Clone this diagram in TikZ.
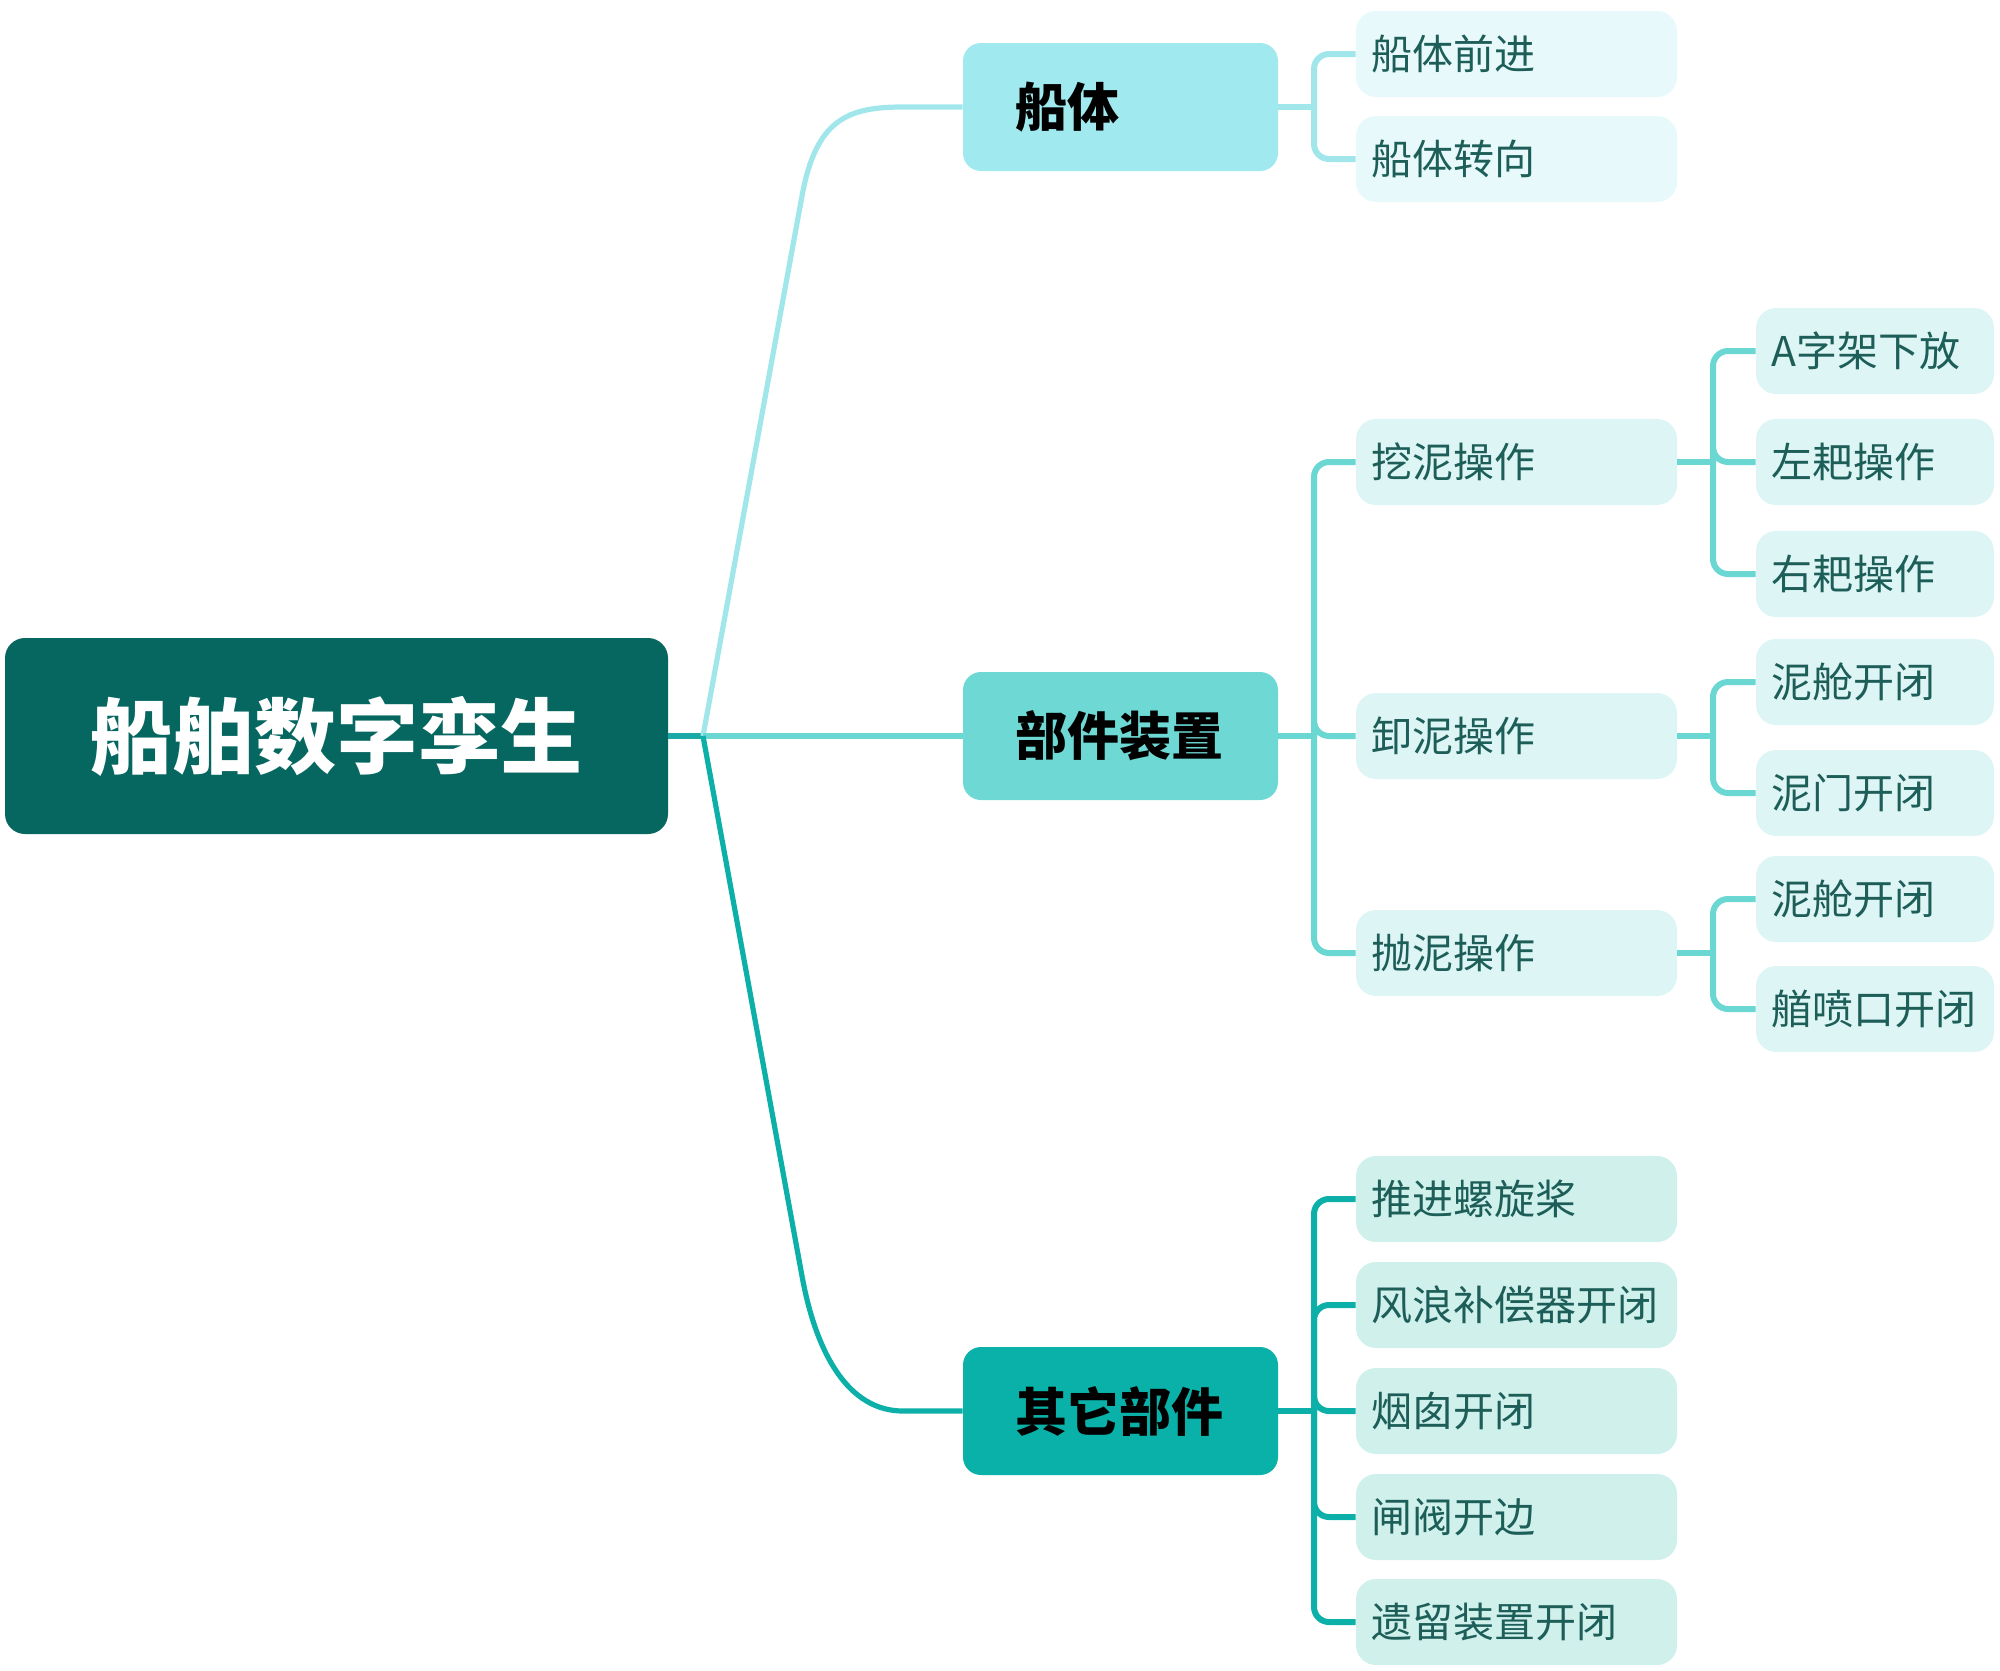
\documentclass[tikz,border=0pt]{standalone}
\usepackage{fontspec}
\setmainfont{Noto Sans CJK SC}
\definecolor{cRoot}{HTML}{066660}
\definecolor{cBa}{HTML}{A0E9EE}
\definecolor{cBb}{HTML}{6ED9D4}
\definecolor{cBc}{HTML}{0AB1A8}
\definecolor{cLa}{HTML}{A0E6EB}
\definecolor{cLb}{HTML}{6AD7D3}
\definecolor{cLc}{HTML}{0CB0A8}
\definecolor{cFa}{HTML}{E7F9FA}
\definecolor{cFb}{HTML}{DEF5F5}
\definecolor{cFc}{HTML}{D0F0EC}
\definecolor{cText}{HTML}{1D5E59}
\definecolor{cStub}{HTML}{1AA9A6}
\begin{document}
\begin{tikzpicture}[x=0.5pt,y=-0.5pt,
  rootbox/.style={fill=cRoot, rounded corners=10pt, minimum width=331.5pt, minimum height=98pt, inner sep=0pt, text=white, font=\fontsize{41}{41}\selectfont\bfseries},
  lvone/.style={rounded corners=9pt, minimum height=64pt, text width=105.5pt, inner xsep=26pt, inner ysep=0pt, align=left, text=black, font=\fontsize{26}{26}\selectfont\bfseries},
  leaf/.style={rounded corners=10pt, minimum height=43pt, text width=145pt, inner xsep=7.75pt, inner ysep=0pt, align=left, text=cText, font=\fontsize{20.5}{20.5}\selectfont},
  leafs/.style={leaf, text width=103.5pt},
  mainline/.style={line width=2.6pt},
  subline/.style={line width=3pt, rounded corners=7.5pt},
]
\useasboundingbox (0,0) rectangle (2000,1670);

% root
\node[rootbox] (root) at (336.5,736) {船舶数字孪生};

% level 1
\node[lvone, fill=cBa] (b1) at (1120.5,107) {船体};
\node[lvone, fill=cBb] (b2) at (1120.5,736) {部件装置};
\node[lvone, fill=cBc] (b3) at (1120.5,1411) {其它部件};

% level 2 under 船体
\node[leaf, fill=cFa] (a1) at (1516.5,54) {船体前进};
\node[leaf, fill=cFa] (a2) at (1516.5,159) {船体转向};

% level 2 under 部件装置
\node[leaf, fill=cFb] (p1) at (1516.5,462) {挖泥操作};
\node[leaf, fill=cFb] (p2) at (1516.5,736) {卸泥操作};
\node[leaf, fill=cFb] (p3) at (1516.5,953) {抛泥操作};

% level 3
\node[leafs, fill=cFb] (q11) at (1875,351) {A字架下放};
\node[leafs, fill=cFb] (q12) at (1875,462) {左耙操作};
\node[leafs, fill=cFb] (q13) at (1875,574) {右耙操作};
\node[leafs, fill=cFb] (q21) at (1875,682) {泥舱开闭};
\node[leafs, fill=cFb] (q22) at (1875,793) {泥门开闭};
\node[leafs, fill=cFb] (q31) at (1875,899) {泥舱开闭};
\node[leafs, fill=cFb] (q32) at (1875,1009) {艏喷口开闭};

% level 2 under 其它部件
\node[leaf, fill=cFc] (c1) at (1516.5,1199) {推进螺旋桨};
\node[leaf, fill=cFc] (c2) at (1516.5,1305) {风浪补偿器开闭};
\node[leaf, fill=cFc] (c3) at (1516.5,1411) {烟囱开闭};
\node[leaf, fill=cFc] (c4) at (1516.5,1517) {闸阀开边};
\node[leaf, fill=cFc] (c5) at (1516.5,1622) {遗留装置开闭};

% junctions
\coordinate (jr) at (703,736);
\coordinate (ja) at (1314,107);
\coordinate (jb) at (1314,736);
\coordinate (jc) at (1314,1411);
\coordinate (jb1) at (1713,462);
\coordinate (jb2) at (1713,736);
\coordinate (jb3) at (1713,953);

% root connectors
\draw[mainline, cStub] (root.east) -- (jr);
\draw[mainline, cLa] (jr) -- (802,196) .. controls (816,119) and (848,107) .. (903,107) -- (b1.west);
\draw[mainline, cLb] (jr) -- (b2.west);
\draw[mainline, cLc] (jr) -- (802,1276) .. controls (816,1353) and (848,1411) .. (903,1411) -- (b3.west);

% 船体 connectors
\draw[subline, cLa] (b1.east) -- (ja);
\foreach \n in {a1,a2} \draw[subline, cLa] (ja) |- (\n.west);

% 部件装置 connectors
\draw[subline, cLb] (b2.east) -- (jb);
\foreach \n in {p1,p2,p3} \draw[subline, cLb] (jb) |- (\n.west);
\draw[subline, cLb] (p1.east) -- (jb1);
\foreach \n in {q11,q12,q13} \draw[subline, cLb] (jb1) |- (\n.west);
\draw[subline, cLb] (p2.east) -- (jb2);
\foreach \n in {q21,q22} \draw[subline, cLb] (jb2) |- (\n.west);
\draw[subline, cLb] (p3.east) -- (jb3);
\foreach \n in {q31,q32} \draw[subline, cLb] (jb3) |- (\n.west);

% 其它部件 connectors
\draw[subline, cLc] (b3.east) -- (jc);
\foreach \n in {c1,c2,c3,c4,c5} \draw[subline, cLc] (jc) |- (\n.west);
\end{tikzpicture}
\end{document}
